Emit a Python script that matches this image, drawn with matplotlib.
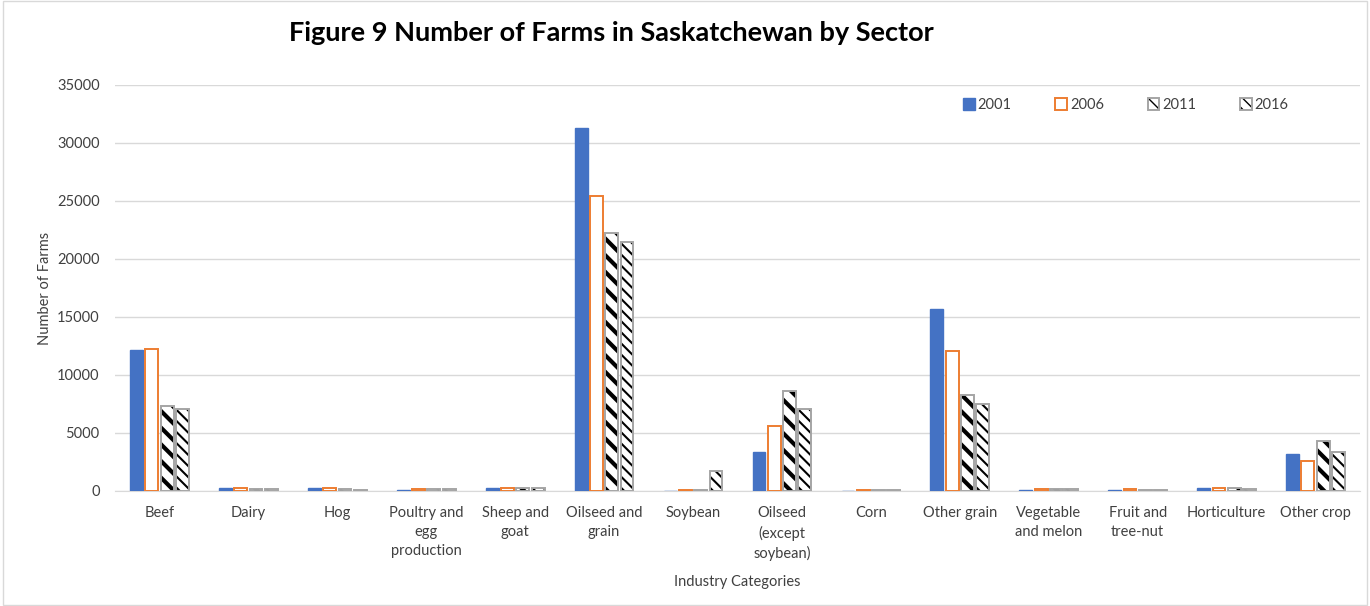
import numpy as np
import matplotlib
matplotlib.use("Agg")
import matplotlib.pyplot as plt
from matplotlib.patches import Rectangle

plt.rcParams["font.family"] = ["Lato", "DejaVu Sans"]
plt.rcParams["hatch.color"] = "black"

categories = ["Beef", "Dairy", "Hog", "Poultry and\negg\nproduction", "Sheep and\ngoat",
              "Oilseed and\ngrain", "Soybean", "Oilseed\n(except\nsoybean)", "Corn",
              "Other grain", "Vegetable\nand melon", "Fruit and\ntree-nut",
              "Horticulture", "Other crop"]
years = ["2001", "2006", "2011", "2016"]
farms_2001 = [12150, 300, 300, 80, 280, 31300, 0, 3400, 0, 15700, 80, 50, 250, 3200]
farms_2006 = [12200, 250, 250, 150, 300, 25400, 50, 5600, 50, 12100, 150, 150, 300, 2600]
farms_2011 = [7300, 200, 150, 150, 250, 22200, 50, 8600, 50, 8300, 150, 120, 220, 4300]
farms_2016 = [7100, 200, 100, 150, 220, 21500, 1700, 7100, 50, 7500, 150, 100, 200, 3400]

fig = plt.figure(figsize=(13.7, 6.06), dpi=100)
fig.patch.set_facecolor("white")
fig.patches.append(Rectangle((0.002, 0.002), 0.996, 0.996, transform=fig.transFigure,
                             fill=False, edgecolor="#d9d9d9", lw=1))
ax = fig.add_axes([115 / 1370, 1 - 491 / 606, 1245 / 1370, 406 / 606])

x = np.arange(len(categories))
step, w = 0.172, 0.145
styles = [
    dict(color="#4472c4", edgecolor="#4472c4"),
    dict(facecolor="white", edgecolor="#ed7d31", lw=1.4),
    dict(facecolor="white", edgecolor="#a5a5a5", lw=1.4, hatch="\\\\"),
    dict(facecolor="white", edgecolor="#a5a5a5", lw=1.4, hatch="\\\\\\"),
]
series = [farms_2001, farms_2006, farms_2011, farms_2016]
for i, (vals, st, yr) in enumerate(zip(series, styles, years)):
    bars = ax.bar(x + (i - 1.5) * step, vals, w, label=yr, zorder=3, **st)
    if i >= 2:
        for b in bars:
            b._hatch_color = (0, 0, 0, 1)
            try:
                b.set_hatch_linewidth(3.0 if i == 2 else 1.5)
            except AttributeError:
                pass

ax.set_xlim(-0.5, len(categories) - 0.5)
ax.set_ylim(0, 35000)
ax.set_yticks(np.arange(0, 35001, 5000))
ax.grid(axis="y", color="#d9d9d9", lw=1, zorder=0)
for s in ["top", "right", "left"]:
    ax.spines[s].set_visible(False)
ax.spines["bottom"].set_color("#d9d9d9")
ax.set_xticks(x)
ax.set_xticklabels(categories, fontsize=10.5, color="#404040", linespacing=1.45, va="top")
ax.tick_params(axis="both", length=0, labelsize=10.5, labelcolor="#404040")
ax.tick_params(axis="x", pad=11)
ax.tick_params(axis="y", pad=11)
ax.set_xlabel("Industry Categories", fontsize=10.5, color="#404040", labelpad=10)
ax.set_ylabel("Number of Farms", fontsize=10.5, color="#404040", labelpad=4)

fig.text(611 / 1370, 1 - 33 / 606, "Figure 9 Number of Farms in Saskatchewan by Sector",
         ha="center", va="center", fontsize=19.5, fontweight="bold", color="black")

ax.legend(loc="upper left", bbox_to_anchor=(950 / 1245 - 115 / 1245, 1.0), ncol=4,
          frameon=False, fontsize=10.5, handlelength=0.8, handleheight=0.8,
          columnspacing=3.0, handletextpad=0.2, labelcolor="#404040")

fig.savefig("out.png", dpi=100, facecolor="white")
